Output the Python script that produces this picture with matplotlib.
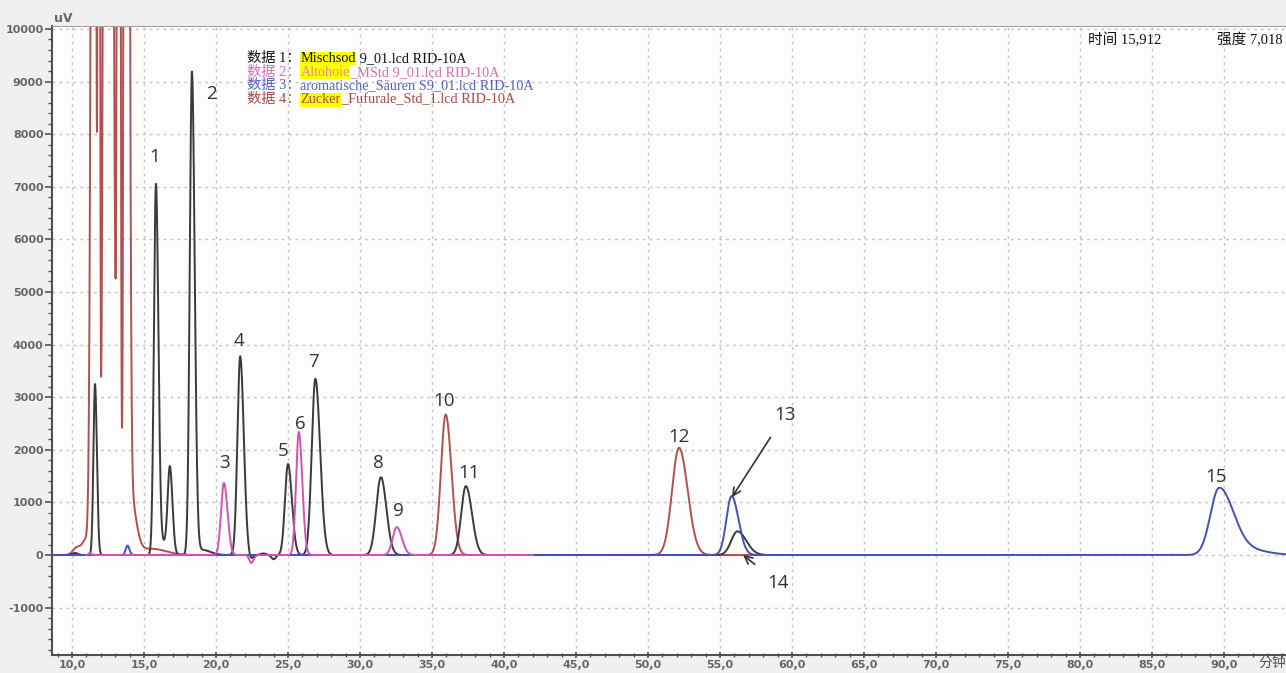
import numpy as np
import matplotlib.pyplot as plt
from matplotlib.ticker import MultipleLocator

plt.rcParams['axes.unicode_minus'] = False

# peak tables: retention time (min), height (uV),
# left / right peak width (min)
red_rt = [10.3, 11.0, 11.55, 11.87, 12.45, 13.25, 13.75, 14.0, 15.5, 35.95, 52.15]
red_h = [130, 300, 40000, 40000, 60000, 52000, 60000, 1200, 120, 2670, 2040]
red_wl = [0.25, 0.3, 0.16, 0.06, 0.17, 0.08, 0.10, 0.20, 0.8, 0.33, 0.48]
red_wr = [0.25, 0.3, 0.09, 0.055, 0.25, 0.08, 0.15, 0.40, 1.0, 0.40, 0.60]

black_rt = [10.2, 11.6, 15.83, 16.4, 16.8, 18.33, 19.0, 21.68, 22.4, 23.3, 24.0,
            25.0, 26.9, 31.45, 37.35, 56.2]
black_h = [40, 3250, 7020, 220, 1600, 9150, 100, 3780, -90, 30, -80,
           1730, 3350, 1480, 1310, 450]
black_wl = [0.2, 0.11, 0.14, 0.3, 0.15, 0.15, 0.5, 0.19, 0.15, 0.2, 0.15,
            0.21, 0.25, 0.32, 0.32, 0.42]
black_wr = [0.2, 0.13, 0.17, 0.3, 0.18, 0.19, 0.6, 0.25, 0.15, 0.2, 0.15,
            0.27, 0.33, 0.38, 0.42, 0.62]

pink_rt = [11.25, 20.55, 22.45, 25.75, 32.55]
pink_h = [40, 1370, -150, 2340, 530]
pink_wl = [0.1, 0.20, 0.14, 0.19, 0.28]
pink_wr = [0.1, 0.25, 0.16, 0.24, 0.36]

blue_rt = [13.85, 55.8, 89.65, 91.2]
blue_h = [180, 1120, 1260, 120]
blue_wl = [0.12, 0.36, 0.60, 0.8]
blue_wr = [0.14, 0.48, 0.95, 1.5]

# run ranges (min)
red_span = (8.6, 60.0)
black_span = (8.6, 60.0)
pink_span = (11.0, 42.0)
blue_span = (8.6, 94.4)

# peak labels (text position in min / uV)
lab_text = ['1', '2', '3', '4', '5', '6', '7', '8', '9', '10', '11', '12', '15']
lab_t = [15.76, 19.65, 20.56, 21.6, 24.65, 25.83, 26.74, 31.25, 32.64, 35.83, 37.57, 52.15, 89.44]
lab_v = [7570, 8760, 1750, 4070, 1980, 2490, 3670, 1750, 840, 2930, 1560, 2240, 1480]

xticks = [10, 15, 20, 25, 30, 35, 40, 45, 50, 55, 60, 65, 70, 75, 80, 85, 90]
xticklabels = ['10,0', '15,0', '20,0', '25,0', '30,0', '35,0', '40,0', '45,0', '50,0',
               '55,0', '60,0', '65,0', '70,0', '75,0', '80,0', '85,0', '90,0']
yticks = [-1000, 0, 1000, 2000, 3000, 4000, 5000, 6000, 7000, 8000, 9000, 10000]

legend_lines = [
    ('数据 1：', 'Mischsod', ' 9_01.lcd RID-10A', '#111111', '#111111'),
    ('数据 2：', 'Altohoie', '_MStd 9_01.lcd RID-10A', '#d070b8', '#d890a0'),
    ('数据 3：', '', 'aromatische_Säuren S9_01.lcd RID-10A', '#5560c0', '#5560c0'),
    ('数据 4：', 'Zucker', '_Fufurale_Std_1.lcd RID-10A', '#a84848', '#a84848'),
]

c_red = '#b05050'
c_black = '#3a3a3a'
c_pink = '#d055b0'
c_blue = '#4650b8'


def trace(span, rts, hs, wl, wr):
    t = np.arange(span[0], span[1], 0.005)
    y = np.zeros_like(t)
    for rt, h, a, b in zip(rts, hs, wl, wr):
        s = np.where(t < rt, a, b)
        y += h * np.exp(-0.5 * ((t - rt) / s) ** 2)
    return t, y


serif = ['Liberation Serif', 'Noto Sans CJK SC']

fig = plt.figure(figsize=(12.86, 6.73), dpi=100, facecolor='#f0f0f0')
ax = fig.add_axes([0.0404, 0.0267, 0.9596, 0.9347])
ax.set_facecolor('#fdfdfd')

for span, rts, hs, wl, wr, c in [
        (red_span, red_rt, red_h, red_wl, red_wr, c_red),
        (black_span, black_rt, black_h, black_wl, black_wr, c_black),
        (blue_span, blue_rt, blue_h, blue_wl, blue_wr, c_blue),
        (pink_span, pink_rt, pink_h, pink_wl, pink_wr, c_pink)]:
    t, y = trace(span, rts, hs, wl, wr)
    ax.plot(t, y, color=c, lw=1.4)

ax.set_xlim(8.61, 94.3)
ax.set_ylim(-1901, 10057)

ax.set_xticks(xticks)
ax.set_xticklabels(xticklabels)
ax.set_yticks(yticks)
ax.xaxis.set_minor_locator(MultipleLocator(1))
ax.yaxis.set_minor_locator(MultipleLocator(200))
ax.tick_params(axis='both', which='major', colors='#555555', labelsize=8,
               length=5, width=1.2, labelcolor='#666666', pad=1)
ax.tick_params(axis='both', which='minor', colors='#555555', length=3, width=1)
ax.tick_params(axis='x', which='both', direction='inout', pad=1)
for lab in ax.get_xticklabels() + ax.get_yticklabels():
    lab.set_fontweight('bold')

ax.grid(True, which='major', color='#c4c4c4', linestyle=(0, (2, 3)), lw=1)
ax.set_axisbelow(True)
for side in ['left', 'bottom']:
    ax.spines[side].set_color('#505050')
    ax.spines[side].set_linewidth(1.5)
ax.spines['top'].set_color('#a0a0a0')
ax.spines['right'].set_visible(False)

for s, tx, vy in zip(lab_text, lab_t, lab_v):
    ax.text(tx, vy, s, ha='center', va='center', fontsize=13.5,
            family='Open Sans', color='#333333')

ax.annotate('13', xy=(55.83, 1100), xytext=(59.5, 2660), ha='center', va='center',
            fontsize=13.5, family='Open Sans', color='#333333',
            arrowprops=dict(arrowstyle='->', color='#333333', lw=1.2,
                            shrinkA=9, shrinkB=0, mutation_scale=14))
ax.annotate('14', xy=(56.6, 0), xytext=(59.03, -530), ha='center', va='center',
            fontsize=13.5, family='Open Sans', color='#333333',
            arrowprops=dict(arrowstyle='->', color='#333333', lw=1.2,
                            shrinkA=9, shrinkB=0, mutation_scale=14))

# legend block of the data system
y0 = 1 - 62 / 673
for i, (head, hl, rest, col, hlcol) in enumerate(legend_lines):
    yy = y0 - i * 13.7 / 673
    prev = fig.text(247 / 1286, yy, head, family=serif, fontsize=10.3, color=col)
    if hl:
        prev = ax.annotate(hl, xy=(1, 0), xycoords=prev, va='bottom', family=serif,
                           fontsize=10.3, color=hlcol if i else col,
                           bbox=dict(facecolor='#ffff00', edgecolor='none', pad=0.3))
    ax.annotate(rest, xy=(1, 0), xycoords=prev, va='bottom', family=serif,
                fontsize=10.3, color=col)

fig.text(1088 / 1286, 1 - 44 / 673, '时间 15,912', family=serif, fontsize=10.5, color='#111111')
fig.text(1217 / 1286, 1 - 44 / 673, '强度 7,018', family=serif, fontsize=10.5, color='#111111')
fig.text(54 / 1286, 1 - 22 / 673, 'uV', fontsize=9, fontweight='bold', color='#666666')
fig.text(1258 / 1286, 1 - 667 / 673, '分钟', family=['Noto Sans CJK SC'], fontsize=10,
         color='#555555')

fig.savefig('out.png', dpi=100, facecolor=fig.get_facecolor())
